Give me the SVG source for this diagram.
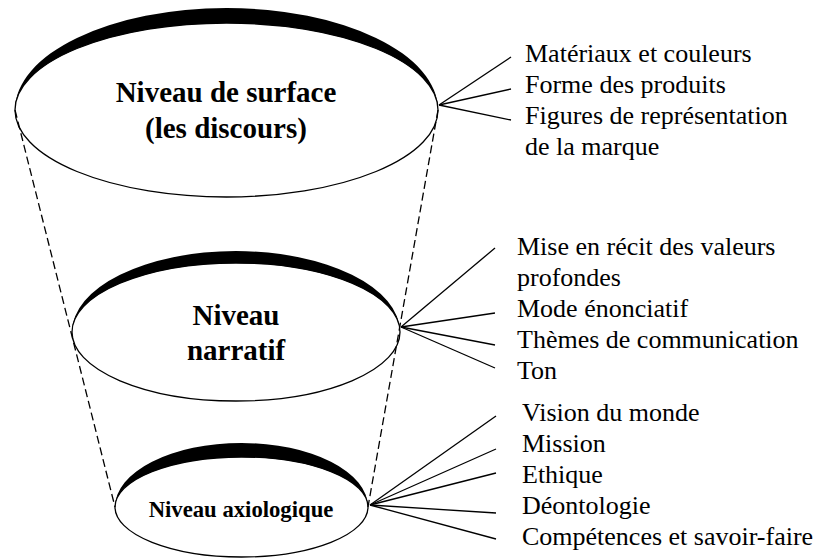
<svg xmlns="http://www.w3.org/2000/svg" width="822" height="559" viewBox="0 0 822 559">
<style>
.ell{fill:#fff;stroke:#000;stroke-width:1.3}
.cres{fill:#000;stroke:none}
.ttl{font-family:'Times New Roman','Liberation Serif',Times,serif;font-weight:bold;fill:#000;text-anchor:middle}
.lbl{font-family:'Times New Roman','Liberation Serif',Times,serif;font-size:26px;fill:#000}
.ln{stroke:#000;stroke-width:1.3;fill:none}
.dash{stroke:#000;stroke-width:1.3;fill:none;stroke-dasharray:8 4}
</style>
<rect width="822" height="559" fill="#fff"/>
<g id="surface">
<ellipse class="ell" cx="226.5" cy="110" rx="211.5" ry="87"/>
<path class="cres" d="M15,110 A211.5,102 0 0 1 438,110 A211.5,87 0 0 0 15,110 Z"/>
<text class="ttl" x="226" y="102" font-size="29">Niveau de surface</text>
<text class="ttl" x="226" y="138" font-size="29">(les discours)</text>
</g>
<g id="narratif">
<ellipse class="ell" cx="236" cy="332" rx="164" ry="69"/>
<path class="cres" d="M72,332 A164,81 0 0 1 400,332 A164,69 0 0 0 72,332 Z"/>
<text class="ttl" x="236" y="325" font-size="29">Niveau</text>
<text class="ttl" x="236" y="360" font-size="29">narratif</text>
</g>
<g id="axiologique">
<ellipse class="ell" cx="241.5" cy="507" rx="126.5" ry="50"/>
<path class="cres" d="M115,507 A126.5,64 0 0 1 368,507 A126.5,50 0 0 0 115,507 Z"/>
<text class="ttl" x="241" y="517" font-size="22.7">Niveau axiologique</text>
</g>
<g id="connectors">
<line class="dash" x1="15" y1="110" x2="115" y2="507"/>
<line class="dash" x1="438" y1="110" x2="368" y2="507"/>
<line class="ln" x1="439" y1="105" x2="511" y2="57"/>
<line class="ln" x1="439" y1="105" x2="511" y2="89"/>
<line class="ln" x1="439" y1="105" x2="511" y2="120"/>
<line class="ln" x1="401" y1="327" x2="495" y2="248"/>
<line class="ln" x1="401" y1="327" x2="495" y2="313"/>
<line class="ln" x1="401" y1="327" x2="495" y2="345"/>
<line class="ln" x1="401" y1="327" x2="495" y2="368"/>
<line class="ln" x1="370" y1="505" x2="496" y2="416"/>
<line class="ln" x1="370" y1="505" x2="496" y2="449"/>
<line class="ln" x1="370" y1="505" x2="496" y2="473"/>
<line class="ln" x1="370" y1="505" x2="496" y2="513"/>
<line class="ln" x1="370" y1="505" x2="496" y2="539"/>
</g>
<g id="labels-surface">
<text class="lbl" x="525" y="62">Matériaux et couleurs</text>
<text class="lbl" x="525" y="93">Forme des produits</text>
<text class="lbl" x="525" y="124">Figures de représentation</text>
<text class="lbl" x="525" y="155">de la marque</text>
</g>
<g id="labels-narratif">
<text class="lbl" x="517" y="255">Mise en récit des valeurs</text>
<text class="lbl" x="517" y="286">profondes</text>
<text class="lbl" x="517" y="317">Mode énonciatif</text>
<text class="lbl" x="517" y="348">Thèmes de communication</text>
<text class="lbl" x="517" y="379">Ton</text>
</g>
<g id="labels-axiologique">
<text class="lbl" x="522" y="421">Vision du monde</text>
<text class="lbl" x="522" y="452">Mission</text>
<text class="lbl" x="522" y="483">Ethique</text>
<text class="lbl" x="522" y="514">Déontologie</text>
<text class="lbl" x="522" y="545">Compétences et savoir-faire</text>
</g>
</svg>
